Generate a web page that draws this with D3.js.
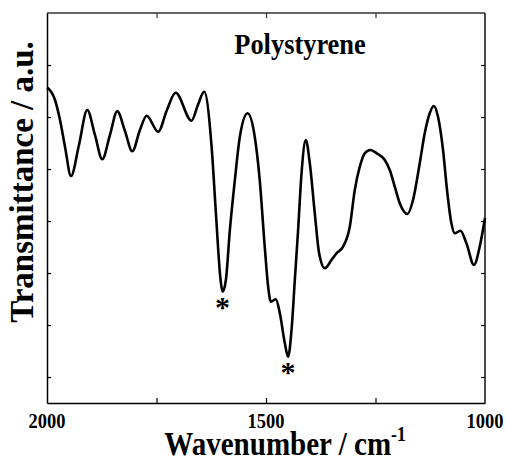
<!DOCTYPE html>
<html><head><meta charset="utf-8">
<script src="https://cdn.jsdelivr.net/npm/d3@7/dist/d3.min.js"></script>
<style>body{margin:0;background:#fff}svg{display:block}</style>
</head><body><div id="chart"></div>
<script>
const wavenumber = [2000,1981.7,1970.3,1958.9,1945.2,1927.0,1908.1,1890.5,1873.8,1856.3,1839.6,1822.0,1805.4,1787.8,1772.5,1746.1,1726.2,1706.4,1669.9,1655.5,1641.1,1624.2,1614.4,1603.7,1599.1,1591.6,1582.5,1571.1,1559.7,1542.1,1525.7,1514.3,1502.9,1495.1,1488.9,1477.5,1468.4,1457.0,1449.5,1441.7,1434.2,1426.7,1418.9,1409.1,1400.0,1388.6,1378.7,1365.7,1350.5,1339.0,1324.0,1308.7,1297.3,1285.9,1274.5,1261.5,1247.1,1228.8,1217.4,1206.0,1194.6,1177.1,1164.3,1149.0,1137.6,1126.2,1117.0,1107.3,1095.8,1086.7,1076.7,1069.1,1056.1,1042.4,1025.1,1012.1,1000];
const transmittance = [6.571,6.327,5.942,5.429,4.865,5.462,6.135,5.654,5.187,5.654,6.110,5.731,5.340,5.750,6.025,5.717,6.135,6.467,5.929,6.231,6.485,5.429,4.154,2.865,2.640,2.865,3.827,4.788,5.621,6.071,5.621,4.788,3.506,2.737,2.448,2.494,2.225,1.648,1.390,1.904,2.865,3.827,4.917,5.558,5.110,4.148,3.379,3.090,3.250,3.379,3.506,3.890,4.596,5.044,5.302,5.365,5.302,5.173,4.981,4.660,4.340,4.135,4.404,5.110,5.687,6.071,6.212,6.006,5.365,4.596,3.956,3.763,3.813,3.571,3.154,3.506,4.058];
const markedBands = [1599.1, 1449.5];
const xTickLabels = [2000, 1500, 1000];
const xMinorTicks = [1750, 1500, 1250];
const yTicks = [1, 2, 3, 4, 5, 6, 7];
const titleText = "Polystyrene";
const yLabel = "Transmittance / a.u.";
const xLabelMain = "Wavenumber / cm";
const xLabelSup = "-1";

const W = 506, H = 462;
const m = {left: 47, right: 21, top: 13, bottom: 59};
const FONT = '"Liberation Serif","Times New Roman",serif';

const svg = d3.select("#chart").append("svg").attr("width", W).attr("height", H);
const x = d3.scaleLinear().domain([2000, 1000]).range([m.left, W - m.right]);
const y = d3.scaleLinear().domain([0.5, 8]).range([H - m.bottom, m.top]);

const data = wavenumber.map((w, i) => ({w, t: transmittance[i]}));

// frame
svg.append("line").attr("x1", x(2000)).attr("x2", x(1000)).attr("y1", y(8)).attr("y2", y(8))
  .attr("stroke", "#333").attr("stroke-width", 1.5);
svg.append("line").attr("x1", x(1000)).attr("x2", x(1000)).attr("y1", y(8)).attr("y2", y(0.5))
  .attr("stroke", "#111").attr("stroke-width", 1.5);

// axes (tick marks only)
const clean = (g, color) => {
  g.selectAll(".tick text").remove();
  g.selectAll(".tick line").attr("stroke", color).attr("stroke-width", 1.2);
};
svg.append("g").attr("transform", `translate(0,${y(0.5)})`)
  .call(d3.axisBottom(x).tickValues(xMinorTicks).tickSizeInner(-5).tickSizeOuter(0))
  .call(g => { clean(g, "#000"); g.select(".domain").attr("stroke", "#000").attr("stroke-width", 1.5); });
svg.append("g").attr("transform", `translate(0,${y(8)})`)
  .call(d3.axisTop(x).tickValues(xMinorTicks).tickSizeInner(-5).tickSizeOuter(0))
  .call(g => { clean(g, "#333"); g.select(".domain").remove(); });
svg.append("g").attr("transform", `translate(${x(2000)},0)`)
  .call(d3.axisLeft(y).tickValues(yTicks).tickSizeInner(-4).tickSizeOuter(0))
  .call(g => { clean(g, "#000"); g.select(".domain").attr("stroke", "#000").attr("stroke-width", 1.5); });
svg.append("g").attr("transform", `translate(${x(1000)},0)`)
  .call(d3.axisRight(y).tickValues(yTicks).tickSizeInner(-4).tickSizeOuter(0))
  .call(g => { clean(g, "#000"); g.select(".domain").remove(); });

// x tick labels
svg.append("g").selectAll("text").data(xTickLabels).join("text")
  .attr("transform", d => `translate(${x(d)},428) scale(0.84,1)`)
  .attr("text-anchor", "middle").attr("font-family", FONT).attr("font-weight", "bold")
  .attr("font-size", 22).text(d => d);

// curve
const line = d3.line().x(d => x(d.w)).y(d => y(d.t)).curve(d3.curveMonotoneX);
svg.append("path").datum(data).attr("d", line).attr("fill", "none")
  .attr("stroke", "#000").attr("stroke-width", 2.6).attr("stroke-linejoin", "round");

// asterisks
svg.append("g").selectAll("text").data(markedBands).join("text")
  .attr("x", d => x(d))
  .attr("y", d => y(transmittance[wavenumber.indexOf(d)]) + 25)
  .attr("text-anchor", "middle").attr("font-family", FONT).attr("font-weight", "bold")
  .attr("font-size", 30).text("*");

// title
svg.append("text").attr("transform", "translate(300,54) scale(0.88,1)")
  .attr("text-anchor", "middle").attr("font-family", FONT).attr("font-weight", "bold")
  .attr("font-size", 30).text(titleText);

// y label
svg.append("text").attr("transform", "translate(33,182) rotate(-90)")
  .attr("text-anchor", "middle").attr("font-family", FONT).attr("font-weight", "bold")
  .attr("font-size", 33).text(yLabel);

// x label
const xl = svg.append("text").attr("transform", "translate(285,455) scale(0.88,1)")
  .attr("text-anchor", "middle").attr("font-family", FONT).attr("font-weight", "bold")
  .attr("font-size", 33);
xl.append("tspan").text(xLabelMain);
xl.append("tspan").attr("font-size", 20).attr("dy", -14).text(xLabelSup);
</script></body></html>
